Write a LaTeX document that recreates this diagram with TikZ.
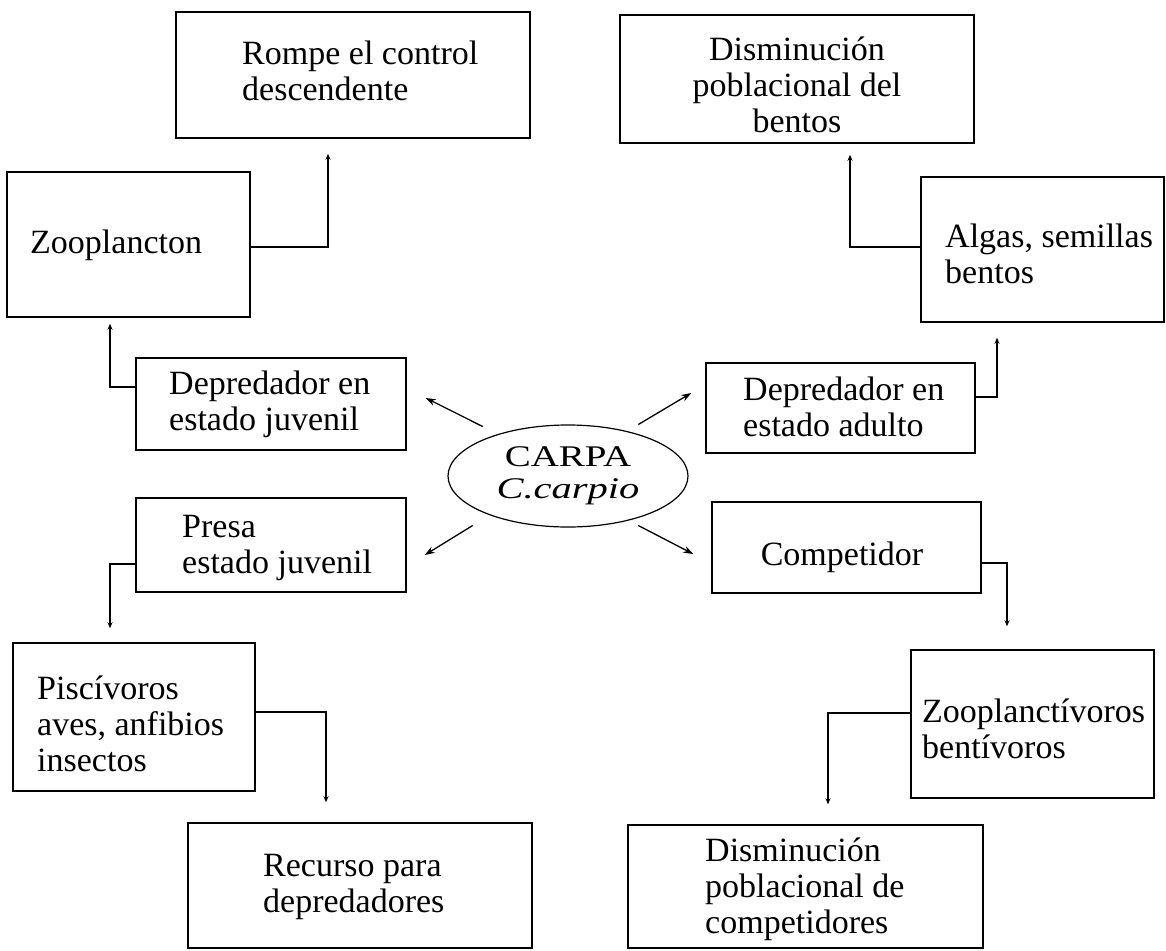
\documentclass[tikz,border=0pt]{standalone}
\usepackage{fontspec}
\usepackage{graphicx}
\setmainfont{Liberation Serif}
\usetikzlibrary{arrows.meta,calc,shapes.geometric}
\begin{document}
\begin{tikzpicture}[x=1pt,y=-1pt,
  box/.style={draw, line width=1.5pt, inner sep=0pt},
  txt/.style={inner sep=0pt, font=\fontsize{34}{36}\selectfont, align=left, anchor=base west},
  ctxt/.style={inner sep=0pt, font=\fontsize{34}{36}\selectfont, align=center, anchor=base},
  conn/.style={line width=1.2pt, -{Stealth[length=6pt,width=5pt]}},
  arr/.style={line width=1.3pt, -{Stealth[length=10pt,width=7pt]}}]
\useasboundingbox (0,0) rectangle (1166,950);

% boxes
\node[box, minimum width=354pt, minimum height=126pt] (rompe) at (353,75) {};
\node[box, minimum width=354pt, minimum height=128pt] (dismb) at (797,79) {};
\node[box, minimum width=243pt, minimum height=145pt] (zoo) at (128.5,244.5) {};
\node[box, minimum width=243pt, minimum height=145pt] (algas) at (1042.5,249.5) {};
\node[box, minimum width=270pt, minimum height=92pt] (depj) at (271,404) {};
\node[box, minimum width=269pt, minimum height=90pt] (depa) at (840.5,408) {};
\node[box, minimum width=270pt, minimum height=94pt] (presa) at (271,545) {};
\node[box, minimum width=269pt, minimum height=91pt] (comp) at (846.5,547.5) {};
\node[box, minimum width=242pt, minimum height=148pt] (pisc) at (134,717) {};
\node[box, minimum width=243pt, minimum height=148pt] (zoopl) at (1032.5,724) {};
\node[box, minimum width=344pt, minimum height=125pt] (recurso) at (360,885.5) {};
\node[box, minimum width=355pt, minimum height=123pt] (dismc) at (805.5,886.5) {};

% texts (anchored at the baseline of their last line)
\node[txt] (rompeT) at (242,100) {Rompe el control\\descendente};
\node[ctxt] (dismbT) at (797,132) {Disminución\\poblacional del\\bentos};
\node[txt] (zooT) at (30,253) {Zooplancton};
\node[txt] (algasT) at (945,283) {Algas, semillas\\bentos};
\node[txt] (depjT) at (169,430) {Depredador en\\estado juvenil};
\node[txt] (depaT) at (743,436) {Depredador en\\estado adulto};
\node[txt] (presaT) at (182,573) {Presa\\estado juvenil};
\node[ctxt] (compT) at (842,565) {Competidor};
\node[txt] (piscT) at (37,771) {Piscívoros\\aves, anfibios\\insectos};
\node[txt] (zooplT) at (922,758) {Zooplanctívoros\\bentívoros};
\node[txt] (recursoT) at (263,912) {Recurso para\\depredadores};
\node[txt] (dismcT) at (705,933) {Disminución\\poblacional de\\competidores};

% central ellipse
\node[draw, ellipse, line width=1.2pt, minimum width=240pt, minimum height=102pt,
      inner sep=0pt, align=center, font=\fontsize{30}{32}\selectfont] (carpa) at (568,476)
      {\scalebox{1.3}[1]{CARPA}\\\scalebox{1.35}[1]{\itshape C.carpio}};

% bend points
\coordinate (k1) at (328,247);
\coordinate (k2) at (850,247);
\coordinate (k3) at (110,387);
\coordinate (k4) at (997,397);
\coordinate (k5) at (110,564);
\coordinate (k6) at (326,712);
\coordinate (k7) at (1007,563);
\coordinate (k8) at (828,713);

% orthogonal connectors
\draw[conn, shorten >=15pt] (zoo.east |- k1) -- (k1) -- (rompe.south -| k1);
\draw[conn, shorten >=11pt] (algas.west |- k2) -- (k2) -- (dismb.south -| k2);
\draw[conn, shorten >=6pt] (depj.west |- k3) -- (k3) -- (zoo.south -| k3);
\draw[conn, shorten >=15pt] (depa.east |- k4) -- (k4) -- (algas.south -| k4);
\draw[conn, shorten >=14pt] (presa.west |- k5) -- (k5) -- (pisc.north -| k5);
\draw[conn, shorten >=20pt] (pisc.east |- k6) -- (k6) -- (recurso.north -| k6);
\draw[conn, shorten >=23pt] (comp.east |- k7) -- (k7) -- (zoopl.north -| k7);
\draw[conn, shorten >=20pt] (zoopl.west |- k8) -- (k8) -- (dismc.north -| k8);

% arrows from CARPA
\draw[arr] ($(carpa.north west)+(0,-13)$) -- ($(depj.east)+(19,-6)$);
\draw[arr] ($(carpa.north east)+(-15,-15)$) -- ($(depa.west)+(-14,-15)$);
\draw[arr] ($(carpa.south west)+(-10,13)$) -- ($(presa.east)+(18,10)$);
\draw[arr] ($(carpa.south east)+(-15,13)$) -- ($(comp.west)+(-18,6.5)$);
\end{tikzpicture}
\end{document}
